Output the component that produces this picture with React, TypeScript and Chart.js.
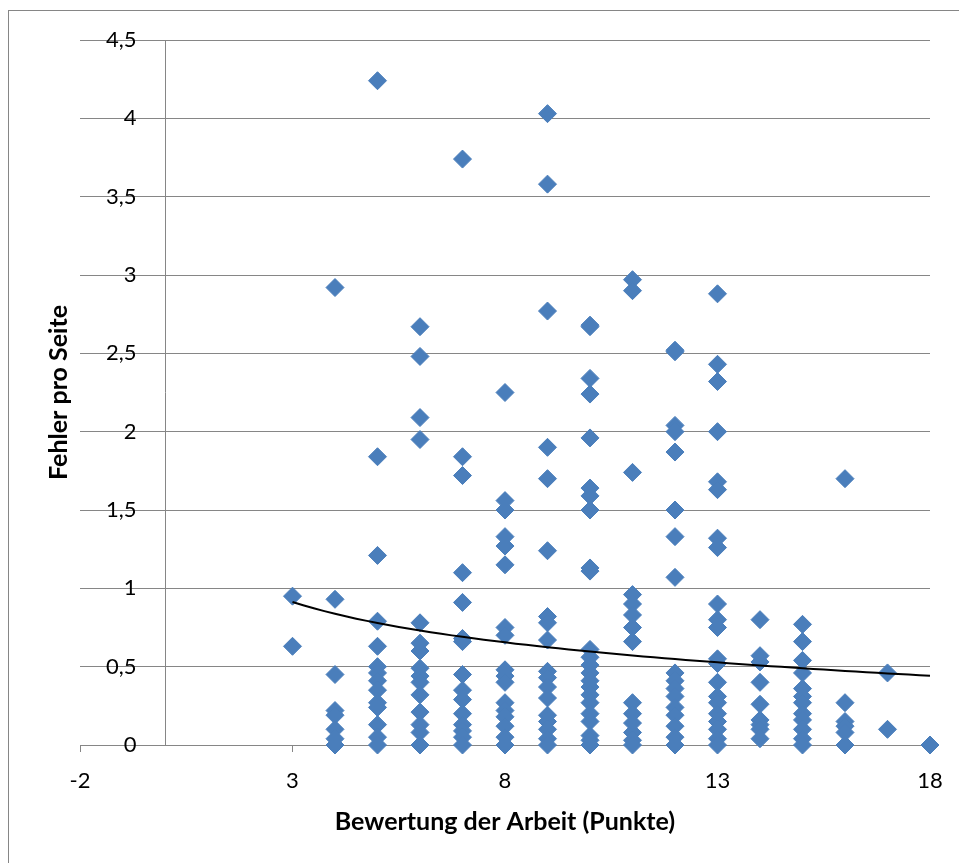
import React, { useEffect, useRef } from 'react';
import { Chart, registerables } from 'chart.js';

Chart.register(...registerables);

// ---- Data ----
const grades = [3, 4, 5, 6, 7, 8, 9, 10, 11, 12, 13, 14, 15, 16, 17, 18];

const errors3 = [0.95, 0.63];
const errors4 = [2.92, 0.93, 0.45, 0.22, 0.19, 0.1, 0.04, 0];
const errors5 = [4.24, 1.84, 1.21, 0.79, 0.63, 0.5, 0.46, 0.41, 0.35, 0.27, 0.24, 0.13, 0.05, 0];
const errors6 = [2.67, 2.48, 2.09, 1.95, 0.78, 0.65, 0.6, 0.49, 0.44, 0.4, 0.32, 0.21, 0.13, 0.08, 0];
const errors7 = [3.74, 1.84, 1.72, 1.1, 0.91, 0.68, 0.66, 0.45, 0.35, 0.29, 0.2, 0.13, 0.09, 0.05, 0];
const errors8 = [2.25, 1.56, 1.5, 1.33, 1.27, 1.15, 0.75, 0.7, 0.48, 0.44, 0.4, 0.27, 0.22, 0.18, 0.12, 0.05, 0];
const errors9 = [4.03, 3.58, 2.77, 1.9, 1.7, 1.24, 0.82, 0.78, 0.67, 0.47, 0.43, 0.37, 0.3, 0.19, 0.15, 0.1, 0.04, 0];
const errors10 = [2.68, 2.67, 2.34, 2.24, 1.96, 1.64, 1.59, 1.5, 1.13, 1.11, 0.61, 0.56, 0.51, 0.46, 0.41, 0.37, 0.32, 0.27, 0.2, 0.15, 0.06, 0.03, 0];
const errors11 = [2.97, 2.9, 1.74, 0.96, 0.9, 0.83, 0.75, 0.66, 0.27, 0.2, 0.14, 0.08, 0.03, 0];
const errors12 = [2.52, 2.51, 2.04, 2.0, 1.87, 1.5, 1.33, 1.07, 0.46, 0.41, 0.36, 0.31, 0.24, 0.19, 0.12, 0.05, 0];
const errors13 = [2.88, 2.43, 2.32, 2.0, 1.68, 1.63, 1.32, 1.26, 0.9, 0.8, 0.75, 0.55, 0.52, 0.4, 0.31, 0.27, 0.2, 0.15, 0.1, 0.04, 0];
const errors14 = [0.8, 0.57, 0.53, 0.4, 0.26, 0.16, 0.13, 0.1, 0.04];
const errors15 = [0.77, 0.66, 0.54, 0.46, 0.36, 0.31, 0.27, 0.2, 0.16, 0.1, 0.04, 0];
const errors16 = [1.7, 0.27, 0.15, 0.12, 0.08, 0];
const errors17 = [0.46, 0.1];
const errors18 = [0];

const errorsByGrade = [
  errors3, errors4, errors5, errors6, errors7, errors8, errors9, errors10,
  errors11, errors12, errors13, errors14, errors15, errors16, errors17, errors18,
];

// Logarithmic trendline (y = a + b * ln x), coefficients
const trendIntercept = 1.202;
const trendSlope = -0.263;
const trendFrom = 3;
const trendTo = 18;

// Axes
const xMin = -2;
const xMax = 18;
const xStep = 5;
const yMin = 0;
const yMax = 4.5;
const yStep = 0.5;
const xTitle = 'Bewertung der Arbeit (Punkte)';
const yTitle = 'Fehler pro Seite';

const FONT = 'Lato, "Noto Sans", "DejaVu Sans", sans-serif';
const GRID = '#868686';
const MARKER = '#4a7ebb';

const fmt = (v: number | string) => String(v).replace('.', ',');

const zeroAxisPlugin = {
  id: 'zeroAxis',
  beforeDatasetsDraw(chart: any) {
    const { ctx, chartArea, scales } = chart;
    const x = Math.round(scales.x.getPixelForValue(0)) + 0.5;
    ctx.save();
    ctx.strokeStyle = GRID;
    ctx.lineWidth = 1;
    ctx.beginPath();
    ctx.moveTo(x, chartArea.top);
    ctx.lineTo(x, chartArea.bottom);
    ctx.stroke();
    ctx.restore();
  },
};

export default function App() {
  const ref = useRef<HTMLCanvasElement>(null);

  useEffect(() => {
    const points = grades.flatMap((g, i) => errorsByGrade[i].map((v) => ({ x: g, y: v })));
    const trend: { x: number; y: number }[] = [];
    for (let x = trendFrom; x <= trendTo + 1e-9; x += 0.25) {
      trend.push({ x, y: trendIntercept + trendSlope * Math.log(x) });
    }

    const chart = new Chart(ref.current as HTMLCanvasElement, {
      type: 'scatter',
      data: {
        datasets: [
          {
            label: 'Trend',
            data: trend,
            showLine: true,
            borderColor: '#000',
            borderWidth: 2,
            pointRadius: 0,
            tension: 0,
            fill: false,
            clip: false as any,
          } as any,
          {
            label: 'Fehler pro Seite',
            data: points,
            pointStyle: 'rectRot',
            pointRadius: 9,
            pointBorderWidth: 1,
            pointBackgroundColor: MARKER,
            pointBorderColor: MARKER,
            backgroundColor: MARKER,
            borderColor: MARKER,
            clip: false as any,
          } as any,
        ],
      },
      options: {
        animation: false,
        responsive: false,
        layout: { padding: { left: 0, right: 29, top: 29, bottom: 0 } },
        plugins: {
          legend: { display: false },
          tooltip: { enabled: false },
        },
        scales: {
          x: {
            type: 'linear',
            position: 'bottom',
            min: xMin,
            max: xMax,
            ticks: {
              stepSize: xStep,
              padding: 16,
              color: '#000',
              font: { family: FONT, size: 22 },
              callback: (v: any) => fmt(v),
            },
            grid: {
              display: true,
              drawOnChartArea: false,
              drawTicks: true,
              tickLength: 7,
              color: GRID,
            },
            border: { display: true, color: GRID },
            title: {
              display: true,
              text: xTitle,
              color: '#000',
              font: { family: FONT, size: 25, weight: 'bold' },
              padding: { top: 0, bottom: 26 },
            },
            afterFit: (s: any) => {
              s.height = 118;
            },
          },
          y: {
            type: 'linear',
            position: 'left',
            min: yMin,
            max: yMax,
            ticks: {
              stepSize: yStep,
              mirror: true,
              crossAlign: 'far',
              padding: 26,
              color: '#000',
              font: { family: FONT, size: 22 },
              callback: (v: any) => fmt(v),
            },
            grid: { color: GRID, drawTicks: false },
            border: { display: false },
            title: {
              display: true,
              text: yTitle,
              color: '#000',
              font: { family: FONT, size: 25, weight: 'bold' },
              padding: { top: 35, bottom: 0 },
            },
            afterFit: (s: any) => {
              s.width = 71;
              s.paddingTop = 0;
              s.paddingBottom = 0;
            },
          },
        },
      } as any,
      plugins: [zeroAxisPlugin],
    });

    return () => chart.destroy();
  }, []);

  return (
    <div
      style={{
        position: 'fixed',
        left: 8,
        top: 10,
        width: 1000,
        height: 900,
        border: '1px solid #868686',
        background: '#fff',
      }}
    >
      <canvas ref={ref} width={950} height={852} style={{ display: 'block' }} />
    </div>
  );
}
